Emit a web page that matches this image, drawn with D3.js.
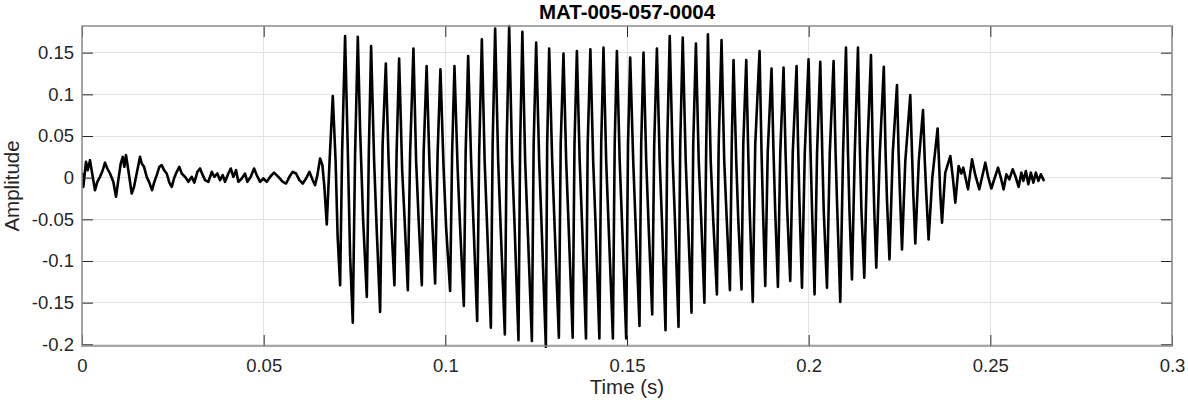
<!DOCTYPE html>
<html>
<head>
<meta charset="utf-8">
<script src="https://cdn.jsdelivr.net/npm/d3@7/dist/d3.min.js"></script>
<style>
  html, body { margin: 0; padding: 0; background: #ffffff; }
  svg { display: block; font-family: "Liberation Sans", Arial, Helvetica, sans-serif; }
</style>
</head>
<body>
<svg id="chart" width="1188" height="404"></svg>
<script>
// ---------------- data (time in ms, amplitude) ----------------
const chartTitle = "MAT-005-057-0004";
const xLabel = "Time (s)";
const yLabel = "Amplitude";
const xTicks = [0, 0.05, 0.1, 0.15, 0.2, 0.25, 0.3];
const xTickLabels = ["0", "0.05", "0.1", "0.15", "0.2", "0.25", "0.3"];
const yTicks = [-0.2, -0.15, -0.1, -0.05, 0, 0.05, 0.1, 0.15];
const yTickLabels = ["-0.2", "-0.15", "-0.1", "-0.05", "0", "0.05", "0.1", "0.15"];
const xDomain = [0, 0.3];
const yDomain = [-0.202, 0.182];

// low-level noise before the voiced segment
const leadNoise = [
  [0.00,0.005],[0.36,-0.011],[1.10,0.019],[1.57,0.009],[2.20,0.021],[2.95,0.001],[3.58,-0.015],
  [4.21,-0.005],[4.96,0.001],[5.64,0.008],[6.33,0.018],[6.96,0.011],[7.71,0.005],[8.62,-0.005],
  [9.36,-0.023],[9.99,-0.003],[10.66,0.017],[11.21,0.025],[11.65,0.013],[12.11,0.027],[12.75,0.009],
  [13.68,-0.019],[14.32,-0.011],[15.23,0.009],[15.97,0.025],[16.44,0.017],[17.07,0.013],[17.81,0.001],
  [18.45,-0.005],[19.27,-0.015],[19.91,-0.005],[20.57,0.003],[21.28,0.013],[21.94,0.015],[22.58,0.009],
  [23.32,0.005],[24.04,-0.006],[24.70,-0.011],[25.33,-0.001],[26.07,0.007],[26.79,0.013],[27.45,0.005],
  [28.36,0.001],[29.27,-0.005],[30.20,0.001],[30.92,-0.006],[31.75,0.007],[32.49,0.011],[33.23,0.003],
  [33.87,-0.003],[34.77,-0.005],[35.71,0.007],[36.43,0.001],[37.25,0.005],[38.00,-0.003],[38.74,0.003],
  [39.37,-0.005],[40.28,0.005],[40.94,0.011],[41.66,0.001],[42.40,0.009],[43.03,-0.005],[43.97,-0.001],
  [44.88,0.005],[45.51,-0.005],[46.45,0.001],[47.36,0.011],[48.10,0.003],[49.01,-0.005],[49.92,-0.001],
  [50.85,-0.005],[51.96,0.002],[52.86,0.006],[54.05,0.001],[55.26,-0.005],[56.17,-0.007],[57.08,0.001],
  [58.01,0.007],[58.92,0.005],[59.83,-0.003],[60.77,-0.007],[61.67,-0.001],[62.58,0.007],[63.52,-0.003],
  [64.15,-0.009],[64.79,0.003],[65.53,0.023],[66.16,0.015],[66.71,-0.011],[67.37,-0.056],[68.14,0.020]
];

// voiced cycles: peak, fall knee, fall knee, trough, rise knee
const voicedCycles = [
  [[69.02,0.098],[69.80,0.020],[70.35,-0.070],[71.04,-0.129],[71.59,0.030]],
  [[72.41,0.170],[73.15,0.034],[73.79,-0.094],[74.53,-0.174],[75.17,0.030]],
  [[75.91,0.169],[76.54,0.058],[77.37,-0.050],[78.39,-0.143],[78.94,0.030]],
  [[79.57,0.158],[80.40,0.020],[81.09,-0.060],[82.05,-0.161],[82.74,0.040]],
  [[83.62,0.137],[84.39,0.020],[85.08,-0.050],[85.99,-0.129],[86.59,0.030]],
  [[87.28,0.143],[88.11,0.010],[88.79,-0.050],[89.68,-0.135],[90.31,0.030]],
  [[91.22,0.155],[91.96,0.020],[92.65,-0.050],[93.53,-0.129],[94.03,0.030]],
  [[94.85,0.134],[95.68,0.010],[96.37,-0.050],[97.19,-0.127],[97.88,0.030]],
  [[98.65,0.130],[99.53,0.010],[100.22,-0.060],[101.32,-0.136],[101.87,0.030]],
  [[102.51,0.134],[103.39,0.010],[104.07,-0.060],[105.09,-0.154],[105.59,0.030]],
  [[106.28,0.146],[107.10,0.020],[107.79,-0.060],[108.76,-0.172],[109.31,0.030]],
  [[110.05,0.166],[110.82,0.020],[111.51,-0.060],[112.53,-0.180],[113.02,0.040]],
  [[113.71,0.179],[114.54,0.020],[115.23,-0.060],[116.38,-0.188],[116.88,0.040]],
  [[117.57,0.182],[118.39,0.020],[119.08,-0.060],[120.13,-0.195],[120.59,0.040]],
  [[121.20,0.175],[121.97,0.020],[122.66,-0.060],[123.82,-0.196],[124.31,0.040]],
  [[125.00,0.162],[125.83,0.020],[126.51,-0.060],[127.67,-0.203],[128.03,0.040]],
  [[128.58,0.155],[129.41,0.020],[130.09,-0.060],[131.25,-0.192],[131.75,0.040]],
  [[132.52,0.149],[133.26,0.020],[133.95,-0.060],[135.05,-0.192],[135.55,0.040]],
  [[136.21,0.152],[136.98,0.020],[137.67,-0.060],[138.71,-0.193],[139.18,0.040]],
  [[139.92,0.154],[140.69,0.020],[141.38,-0.060],[142.40,-0.193],[142.90,0.040]],
  [[143.53,0.156],[144.27,0.020],[144.96,-0.060],[146.12,-0.193],[146.61,0.040]],
  [[147.22,0.152],[147.99,0.020],[148.68,-0.060],[149.78,-0.193],[150.28,0.040]],
  [[150.88,0.144],[151.71,0.020],[152.40,-0.060],[153.44,-0.178],[153.91,0.040]],
  [[154.54,0.150],[155.29,0.020],[155.97,-0.060],[156.94,-0.164],[157.49,0.040]],
  [[158.23,0.155],[159.00,0.020],[159.69,-0.060],[160.60,-0.183],[161.07,0.040]],
  [[161.76,0.170],[162.59,0.020],[163.27,-0.060],[164.18,-0.179],[164.65,0.040]],
  [[165.34,0.168],[166.16,0.020],[166.85,-0.060],[167.76,-0.162],[168.23,0.040]],
  [[168.97,0.161],[169.74,0.020],[170.43,-0.050],[171.31,-0.150],[171.81,0.040]],
  [[172.27,0.172],[173.04,0.020],[173.73,-0.050],[174.75,-0.140],[175.24,0.040]],
  [[176.02,0.165],[176.76,0.020],[177.45,-0.050],[178.33,-0.135],[178.83,0.040]],
  [[179.32,0.141],[180.07,0.020],[180.62,-0.050],[181.53,-0.134],[182.00,0.040]],
  [[182.82,0.141],[183.37,0.030],[183.78,-0.040],[184.61,-0.149],[185.30,0.040]],
  [[186.48,0.152],[187.03,0.030],[187.44,-0.040],[188.05,-0.130],[188.73,0.030]],
  [[189.78,0.131],[190.33,0.030],[190.79,-0.040],[191.54,-0.131],[192.18,0.030]],
  [[193.09,0.132],[193.64,0.030],[194.11,-0.040],[194.93,-0.124],[195.62,0.030]],
  [[196.67,0.134],[197.08,0.040],[197.47,-0.030],[198.16,-0.132],[198.93,0.030]],
  [[199.97,0.142],[200.52,0.030],[200.94,-0.040],[201.62,-0.140],[202.31,0.030]],
  [[203.19,0.139],[203.74,0.030],[204.15,-0.040],[205.04,-0.132],[205.81,0.030]],
  [[206.86,0.140],[207.41,0.030],[207.88,-0.040],[208.70,-0.149],[209.47,0.030]],
  [[210.27,0.156],[210.82,0.030],[211.23,-0.040],[211.92,-0.122],[212.69,0.030]],
  [[213.57,0.156],[214.12,0.030],[214.53,-0.040],[215.31,-0.120],[216.13,0.030]],
  [[217.15,0.147],[217.65,0.030],[218.06,-0.040],[218.61,-0.108],[219.58,0.030]],
  [[220.68,0.133],[221.17,0.030],[221.58,-0.030],[222.24,-0.098],[223.15,0.030]],
  [[224.31,0.111],[224.75,0.030],[225.13,-0.020],[225.69,-0.086],[226.60,0.020]],
  [[227.97,0.099],[228.44,0.030],[228.80,-0.020],[229.35,-0.079],[230.31,0.020]],
  [[231.47,0.081],[231.96,0.020],[232.38,-0.020],[233.01,-0.074],[234.03,0.000]],
  [[235.49,0.059],[235.96,0.010],[236.23,-0.020],[236.70,-0.054],[237.34,-0.010]]
];

// decaying noise after the voiced segment
const tailNoise = [
  [237.61,0.006],[238.99,0.026],[239.68,0.000],[240.36,-0.030],[241.27,0.014],[242.01,0.005],
  [242.56,0.012],[243.86,-0.014],[244.96,0.022],[245.87,0.003],[246.97,-0.014],[248.62,0.018],
  [249.45,0.000],[250.27,-0.013],[252.12,0.012],[252.89,0.000],[253.66,-0.014],[254.41,0.004],
  [255.23,-0.002],[256.14,0.010],[256.88,0.002],[257.79,-0.011],[258.53,0.006],[259.09,-0.004],
  [259.77,0.008],[260.46,-0.008],[261.15,0.006],[261.84,-0.006],[262.53,0.006],[263.21,-0.004],
  [263.90,0.004],[264.67,-0.003]
];

// ---------------- drawing ----------------
const W = 1188, H = 404;
const plot = { left: 82, top: 26, right: 1172, bottom: 346 };
const svg = d3.select("#chart");

const x = d3.scaleLinear().domain(xDomain).range([plot.left, plot.right]);
const y = d3.scaleLinear().domain(yDomain).range([plot.bottom, plot.top]);

const tickColor = "#262626";
const gridColor = "#e3e3e3";
const boxColor = "#8a8a8a";
const tickLen = 11;

// background
svg.append("rect").attr("x", plot.left).attr("y", plot.top)
  .attr("width", plot.right - plot.left).attr("height", plot.bottom - plot.top)
  .attr("fill", "#ffffff");

// grid
const grid = svg.append("g").attr("shape-rendering", "crispEdges");
grid.selectAll("line.vx").data(xTicks).join("line")
  .attr("x1", d => x(d)).attr("x2", d => x(d))
  .attr("y1", plot.top).attr("y2", plot.bottom)
  .attr("stroke", gridColor).attr("stroke-width", 1);
grid.selectAll("line.hy").data(yTicks).join("line")
  .attr("x1", plot.left).attr("x2", plot.right)
  .attr("y1", d => y(d)).attr("y2", d => y(d))
  .attr("stroke", gridColor).attr("stroke-width", 1);

// waveform
const points = leadNoise.concat(voicedCycles.flat(), tailNoise);
const line = d3.line()
  .x(d => x(d[0] / 1000))
  .y(d => y(d[1]))
  .curve(d3.curveLinear);

svg.append("defs").append("clipPath").attr("id", "clip")
  .append("rect").attr("x", plot.left).attr("y", plot.top - 2)
  .attr("width", plot.right - plot.left).attr("height", plot.bottom - plot.top + 4);

svg.append("path")
  .datum(points)
  .attr("clip-path", "url(#clip)")
  .attr("fill", "none")
  .attr("stroke", "#000000")
  .attr("stroke-width", 2.6)
  .attr("stroke-linejoin", "round")
  .attr("stroke-linecap", "round")
  .attr("d", line);

// axes
const fontTick = 18.5;
const xAxis = d3.axisBottom(x).tickValues(xTicks)
  .tickFormat((d, i) => xTickLabels[i]).tickSizeInner(-tickLen).tickSizeOuter(0).tickPadding(13);
const yAxis = d3.axisLeft(y).tickValues(yTicks)
  .tickFormat((d, i) => yTickLabels[i]).tickSizeInner(-tickLen).tickSizeOuter(0).tickPadding(8);
const xAxisTop = d3.axisTop(x).tickValues(xTicks).tickFormat("").tickSizeInner(-tickLen).tickSizeOuter(0);
const yAxisRight = d3.axisRight(y).tickValues(yTicks).tickFormat("").tickSizeInner(-tickLen).tickSizeOuter(0);

function styleAxis(g) {
  g.select(".domain").remove();
  g.selectAll(".tick line").attr("stroke", tickColor).attr("stroke-width", 1);
  g.selectAll(".tick text").attr("fill", tickColor)
    .style("font-size", fontTick + "px")
    .style("font-family", "'Liberation Sans', Arial, Helvetica, sans-serif");
}

svg.append("g").attr("transform", `translate(0,${plot.bottom})`).call(xAxis).call(styleAxis);
svg.append("g").attr("transform", `translate(${plot.left},0)`).call(yAxis).call(styleAxis);
svg.append("g").attr("transform", `translate(0,${plot.top})`).call(xAxisTop).call(styleAxis);
svg.append("g").attr("transform", `translate(${plot.right},0)`).call(yAxisRight).call(styleAxis);

// box
svg.append("rect").attr("x", plot.left).attr("y", plot.top)
  .attr("width", plot.right - plot.left).attr("height", plot.bottom - plot.top)
  .attr("fill", "none").attr("stroke", boxColor).attr("stroke-width", 1.5);

// labels
svg.append("text")
  .attr("x", (plot.left + plot.right) / 2).attr("y", 394)
  .attr("text-anchor", "middle").attr("fill", tickColor)
  .style("font-size", "20.5px").text(xLabel);

svg.append("text")
  .attr("transform", `translate(19,${(plot.top + plot.bottom) / 2}) rotate(-90)`)
  .attr("text-anchor", "middle").attr("fill", tickColor)
  .style("font-size", "20.5px").text(yLabel);

svg.append("text")
  .attr("x", (plot.left + plot.right) / 2).attr("y", 19)
  .attr("text-anchor", "middle").attr("fill", "#000000")
  .style("font-size", "20.5px").style("font-weight", "bold").text(chartTitle);
</script>
</body>
</html>
